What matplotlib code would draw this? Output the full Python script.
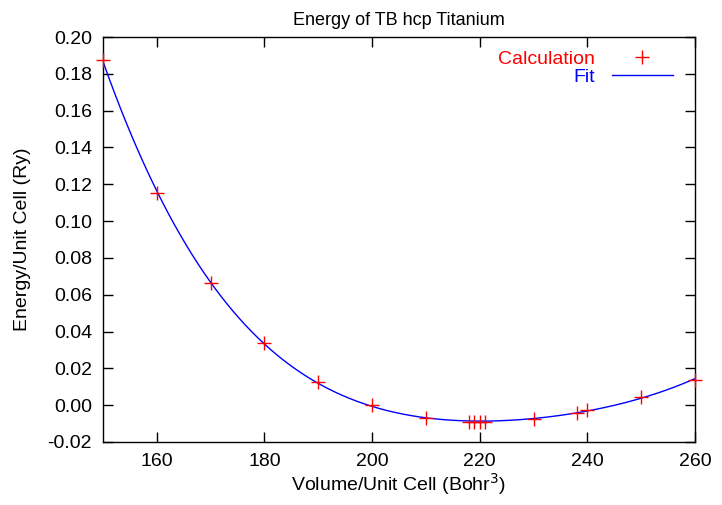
import numpy as np
import matplotlib
matplotlib.use("Agg")
import matplotlib.pyplot as plt

# volumes (Bohr^3) and energies (Ry)
volume = [150, 160, 170, 180, 190, 200, 210, 218, 219, 220, 221, 230, 238, 240, 250, 260]
energy = [0.1873, 0.1152, 0.0663, 0.0336, 0.0127, 0.0000, -0.0069, -0.0090, -0.0091,
          -0.0091, -0.0091, -0.0076, -0.0040, -0.0026, 0.0047, 0.0138]

xticks = [160, 180, 200, 220, 240, 260]
yticks = [-0.02, 0.00, 0.02, 0.04, 0.06, 0.08, 0.10, 0.12, 0.14, 0.16, 0.18, 0.20]

plt.rcParams["font.family"] = ["Liberation Sans", "DejaVu Sans"]


def plotDraw():
    vol = np.array(volume, dtype=float)
    en = np.array(energy, dtype=float)

    coef = np.polyfit(vol, en, 4)
    vfit = np.linspace(150, 260, 400)
    efit = np.polyval(coef, vfit)

    fig = plt.figure(figsize=(7.22, 5.05), dpi=100)
    ax = fig.add_axes([0.1427, 0.1248, 0.8199, 0.8019])

    ax.plot(vol, en, linestyle="none", marker="+", color="red",
            markersize=10, markeredgewidth=1.0, label="Calculation",
            zorder=3, clip_on=False)
    ax.plot(vfit, efit, color="blue", linewidth=1.0, label="Fit", zorder=2)

    ax.set_xlim(150, 260)
    ax.set_ylim(-0.02, 0.20)
    ax.set_xticks(xticks)
    ax.set_yticks(yticks)
    ax.set_yticklabels(["%.2f" % t for t in yticks])
    ax.tick_params(direction="in", length=7, width=1, top=True, right=True,
                   labelsize=14, pad=8)
    for s in ax.spines.values():
        s.set_linewidth(1.0)

    ax.set_title("Energy of TB hcp Titanium", fontsize=13, pad=9)
    ax.set_xlabel("Volume/Unit Cell (Bohr$^3$)", fontsize=14, labelpad=1)
    ax.set_ylabel("Energy/Unit Cell (Ry)", fontsize=14, labelpad=12)

    ax.legend(loc="upper right", frameon=False, markerfirst=False,
              labelcolor="linecolor", fontsize=14, handlelength=3.1,
              handletextpad=0.9, borderaxespad=0.3, labelspacing=0.0,
              bbox_to_anchor=(0.985, 1.0))

    fig.savefig("out.png", dpi=100)


if __name__ == "__main__":
    plotDraw()
